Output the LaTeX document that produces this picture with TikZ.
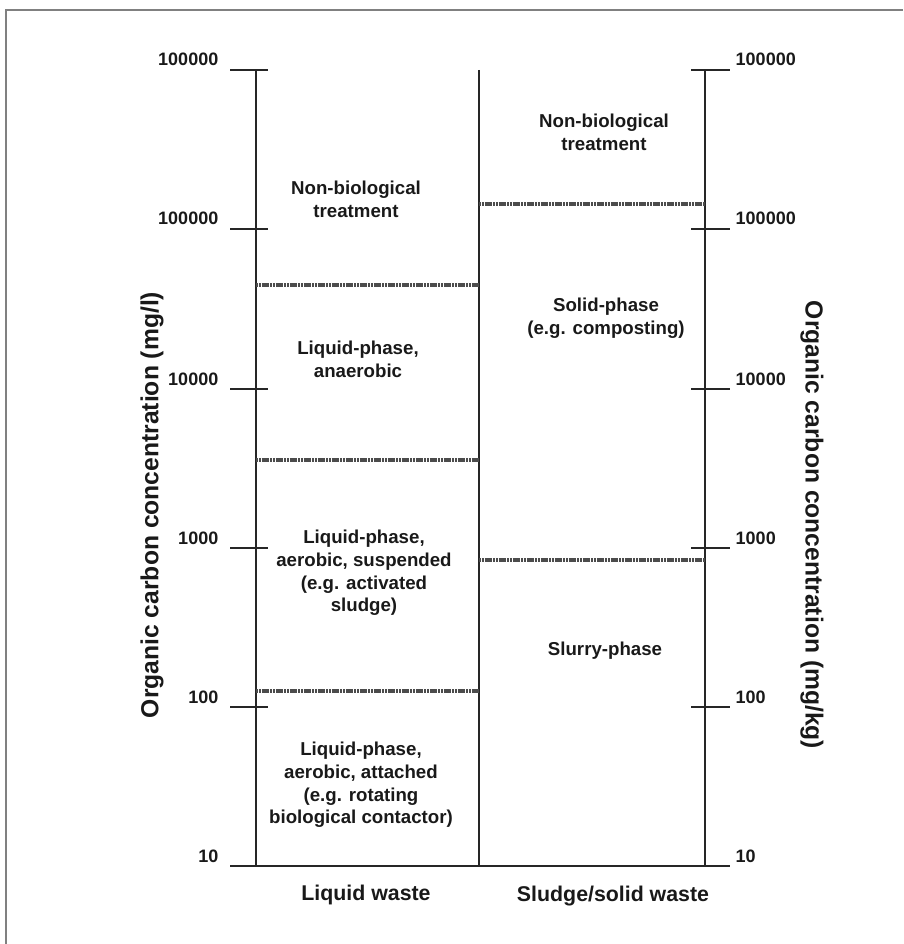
\documentclass[tikz,border=0pt]{standalone}
\usepackage{fontspec}
\setmainfont{Liberation Sans}
\tikzset{
  axisline/.style={line width=1.5pt, black!85},
  tickline/.style={line width=1.2pt, black!85},
  zoneline/.style={line width=2.6pt, black!70, dash pattern=on 1.6pt off 0.5pt},
  zonetext/.style={font=\bfseries\fontsize{14}{17}\selectfont, align=center, text=black!90},
  ticktext/.style={font=\bfseries\fontsize{13.5}{16}\selectfont, text=black!90},
  axistext/.style={font=\bfseries\fontsize{18.5}{22}\selectfont, text=black!90},
  wastetext/.style={font=\bfseries\fontsize{16}{19}\selectfont, text=black!90}
}
\begin{document}
\begin{tikzpicture}[x=0.75pt,y=-0.75pt]
    \useasboundingbox (0,0) rectangle (903,944);
    \draw[gray, line width=1pt] (6,944) -- (6,10) -- (903,10);
    % the three columns
    \coordinate (LT) at (256,70);
    \coordinate (LB) at (256,866);
    \coordinate (MT) at (479,70);
    \coordinate (MB) at (479,866);
    \coordinate (RT) at (705,70);
    \coordinate (RB) at (705,866);
    \draw[axisline] (LT) -- (LB);
    \draw[axisline] (MT) -- (MB);
    \draw[axisline] (RT) -- (RB);
    \draw[axisline] (230,866) -- (728,866);
    % ticks and values
    \foreach \y/\v [count=\i] in {70/100000,229/100000,389/10000,548/1000,707/100,866/10}{
        \draw[tickline] (230,\y) -- (268,\y);
        \draw[tickline] (691,\y) -- (730,\y);
        \node[ticktext, anchor=base east] (lv\i) at (223,\y-4) {\v};
        \node[ticktext, anchor=base west] (rv\i) at (731,\y-4) {\v};
    }
    % zone borders
    \draw[zoneline] (256,285) -- (479,285);
    \draw[zoneline] (256,460) -- (479,460);
    \draw[zoneline] (256,691) -- (479,691);
    \draw[zoneline] (479,204) -- (705,204);
    \draw[zoneline] (479,560) -- (705,560);
    % liquid waste zones
    \node[zonetext] (lnonbio) at (356,199) {Non-biological\\treatment};
    \node[zonetext] (lanaer) at (358,359) {Liquid-phase,\\anaerobic};
    \node[zonetext] (lsusp) at (364,573) {Liquid-phase,\\aerobic, suspended\\(e.g. activated\\sludge)};
    \node[zonetext] (lattach) at (361,785) {Liquid-phase,\\aerobic, attached\\(e.g. rotating\\biological contactor)};
    % sludge zones
    \node[zonetext] (rnonbio) at (604,132) {Non-biological\\treatment};
    \node[zonetext] (rsolid) at (606,318) {Solid-phase\\(e.g. composting)};
    \node[zonetext] (rslurry) at (605,651) {Slurry-phase};
    % labels
    \node[wastetext] (liquid) at (366,895) {Liquid waste};
    \node[wastetext] (sludge) at (613,896) {Sludge/solid waste};
    \node[axistext, rotate=90] (leftlab) at (152,505) {Organic carbon concentration (mg/l)};
    \node[axistext, rotate=-90] (rightlab) at (812,525) {Organic carbon concentration (mg/kg)};
\end{tikzpicture}
\end{document}
